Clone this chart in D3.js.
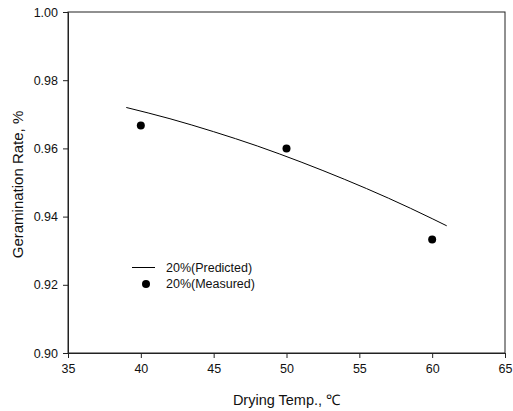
<!DOCTYPE html>
<html>
<head>
<meta charset="utf-8">
<script src="https://cdn.jsdelivr.net/npm/d3@7"></script>
<style>
  body { margin: 0; background: #fff; }
  text { font-family: "Liberation Sans", Arial, sans-serif; fill: #111; }
</style>
</head>
<body>
<div id="chart"></div>
<script>
// data
const xTicks = [35, 40, 45, 50, 55, 60, 65];
const yTicks = [0.90, 0.92, 0.94, 0.96, 0.98, 1.00];
const measuredTemp = [40, 50, 60];
const measuredRate = [0.9667, 0.9600, 0.9333];
const predictedTemp = [39, 42, 45, 48, 51, 54, 57, 60, 61];
const predictedRate = [0.9720, 0.9687, 0.9649, 0.9607, 0.9560, 0.9509, 0.9454, 0.9394, 0.9373];
const legendLabels = ["20%(Predicted)", "20%(Measured)"];

const width = 513, height = 411;
const margin = { top: 12, right: 8, bottom: 58, left: 68 };

const svg = d3.select("#chart").append("svg")
  .attr("width", width)
  .attr("height", height);

const x = d3.scaleLinear().domain([35, 65]).range([margin.left, width - margin.right]);
const y = d3.scaleLinear().domain([0.90, 1.00]).range([height - margin.bottom, margin.top]);

// frame
svg.append("rect")
  .attr("x", x(35)).attr("y", y(1.00))
  .attr("width", x(65) - x(35)).attr("height", y(0.90) - y(1.00))
  .attr("fill", "none").attr("stroke", "#222").attr("stroke-width", 1);

// axes
const xAxis = svg.append("g")
  .attr("transform", `translate(0,${y(0.90)})`)
  .call(d3.axisBottom(x).tickValues(xTicks).tickSize(5).tickPadding(6).tickFormat(d3.format("d")));
const yAxis = svg.append("g")
  .attr("transform", `translate(${x(35)},0)`)
  .call(d3.axisLeft(y).tickValues(yTicks).tickSize(5).tickPadding(5).tickFormat(d3.format(".2f")));

[xAxis, yAxis].forEach(g => {
  g.select(".domain").attr("stroke", "#222");
  g.selectAll(".tick line").attr("stroke", "#222");
  g.selectAll(".tick text").attr("font-size", 12.5).attr("fill", "#111")
    .style("font-family", "'Liberation Sans', Arial, sans-serif");
});

// axis titles
svg.append("text")
  .attr("x", (x(35) + x(65)) / 2).attr("y", 405)
  .attr("text-anchor", "middle").attr("font-size", 14.5)
  .text("Drying Temp., ℃");

svg.append("text")
  .attr("transform", `translate(23,${(y(0.90) + y(1.00)) / 2 + 2}) rotate(-90)`)
  .attr("text-anchor", "middle").attr("font-size", 15)
  .text("Geramination Rate, %");

// predicted curve
const line = d3.line()
  .x((d, i) => x(predictedTemp[i]))
  .y(d => y(d))
  .curve(d3.curveMonotoneX);

svg.append("path")
  .datum(predictedRate)
  .attr("d", line)
  .attr("fill", "none").attr("stroke", "#000").attr("stroke-width", 1);

// measured points
svg.selectAll(".dot")
  .data(measuredRate)
  .enter().append("circle")
  .attr("class", "dot")
  .attr("cx", (d, i) => x(measuredTemp[i]))
  .attr("cy", d => y(d))
  .attr("r", 4)
  .attr("fill", "#000");

// legend
const lg = svg.append("g");
lg.append("line")
  .attr("x1", 132).attr("x2", 155).attr("y1", 267.5).attr("y2", 267.5)
  .attr("stroke", "#000").attr("stroke-width", 1);
lg.append("circle").attr("cx", 146).attr("cy", 284).attr("r", 4).attr("fill", "#000");
lg.selectAll(".lt")
  .data(legendLabels)
  .enter().append("text")
  .attr("class", "lt")
  .attr("x", 166)
  .attr("y", (d, i) => 268 + i * 16)
  .attr("dy", "0.35em")
  .attr("font-size", 12.5)
  .text(d => d);
</script>
</body>
</html>
